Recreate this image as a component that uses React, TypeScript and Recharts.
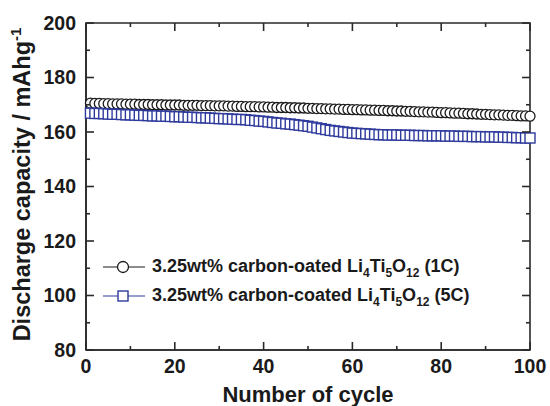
import React from 'react';
import { LineChart, Line, XAxis, YAxis, Legend, ReferenceArea } from 'recharts';

// cycle numbers 1..100
const cycles = Array.from({ length: 100 }, (_, i) => i + 1);

// 3.25wt% carbon-oated Li4Ti5O12 (1C)
const cap1C = [
  170.6, 170.5, 170.5, 170.4, 170.4, 170.3, 170.3, 170.3, 170.2, 170.2,
  170.2, 170.1, 170.1, 170.1, 170.0, 170.0, 170.0, 169.9, 169.9, 169.9,
  169.9, 169.8, 169.8, 169.8, 169.8, 169.7, 169.7, 169.7, 169.6, 169.6,
  169.6, 169.5, 169.5, 169.4, 169.4, 169.3, 169.3, 169.3, 169.2, 169.2,
  169.1, 169.1, 169.0, 169.0, 169.0, 168.9, 168.9, 168.8, 168.8, 168.7,
  168.7, 168.6, 168.6, 168.5, 168.5, 168.4, 168.4, 168.3, 168.3, 168.2,
  168.2, 168.1, 168.1, 168.0, 168.0, 167.9, 167.9, 167.8, 167.8, 167.7,
  167.7, 167.6, 167.6, 167.5, 167.4, 167.4, 167.3, 167.3, 167.2, 167.1,
  167.1, 167.0, 166.9, 166.9, 166.8, 166.7, 166.7, 166.6, 166.5, 166.5,
  166.4, 166.3, 166.3, 166.2, 166.1, 166.1, 166.0, 165.9, 165.9, 165.8,
];

// 3.25wt% carbon-coated Li4Ti5O12 (5C)
const cap5C = [
  166.9, 166.8, 166.8, 166.7, 166.6, 166.5, 166.5, 166.4, 166.3, 166.3,
  166.2, 166.1, 166.1, 166.0, 165.9, 165.9, 165.8, 165.8, 165.7, 165.6,
  165.6, 165.5, 165.4, 165.4, 165.3, 165.2, 165.2, 165.1, 165.0, 164.9,
  164.9, 164.8, 164.7, 164.6, 164.6, 164.5, 164.3, 164.2, 164.0, 163.9,
  163.7, 163.5, 163.3, 163.2, 163.0, 162.9, 162.7, 162.5, 162.3, 162.1,
  161.8, 161.5, 161.2, 160.9, 160.6, 160.4, 160.2, 160.0, 159.8, 159.6,
  159.5, 159.4, 159.3, 159.2, 159.1, 159.0, 159.0, 158.9, 158.9, 158.9,
  158.8, 158.8, 158.8, 158.7, 158.7, 158.7, 158.6, 158.6, 158.6, 158.6,
  158.5, 158.5, 158.5, 158.4, 158.4, 158.4, 158.3, 158.3, 158.3, 158.2,
  158.2, 158.2, 158.1, 158.1, 158.0, 158.0, 157.9, 157.9, 157.8, 157.8,
];

// every 10 gets a tick, every 20 a label
const xTicks = [0, 10, 20, 30, 40, 50, 60, 70, 80, 90, 100];
const yTicks = [80, 90, 100, 110, 120, 130, 140, 150, 160, 170, 180, 190, 200];

const data = cycles.map((c, i) => ({ cycle: c, c1: cap1C[i], c5: cap5C[i] }));

const FONT = "'Liberation Sans', Arial, sans-serif";
const AX = '#2a2a2a';
const INK = '#1a1a1a';
const BLUE = '#2e3a9c';

// plot box (chart is 550x406)
const W = 550, H = 406;
const TOP = 23, RIGHT = 20, LEFT = 86, BOTTOM = 56;
const X_GAP = 9, Y_GAP = 10;

const axisLine = { stroke: AX, strokeWidth: 1.6 };

const XTick = (props: any) => {
  const { x, y, payload } = props;
  const major = payload.value % 20 === 0;
  const len = major ? 8 : 4;
  const bottom = y - X_GAP;
  return (
    <g>
      <line x1={x} x2={x} y1={bottom} y2={bottom - len} stroke={AX} strokeWidth={1.6} />
      <line x1={x} x2={x} y1={TOP} y2={TOP + len} stroke={AX} strokeWidth={1.6} />
      {major && (
        <text x={x} y={y} dy="0.71em" textAnchor="middle" fill={INK} fontSize={19.5} fontWeight={700} fontFamily={FONT}>
          {payload.value}
        </text>
      )}
    </g>
  );
};

const YTick = (props: any) => {
  const { x, y, payload } = props;
  const major = payload.value % 20 === 0;
  const len = major ? 8 : 4;
  const left = x + Y_GAP;
  const right = W - RIGHT;
  return (
    <g>
      <line x1={left} x2={left + len} y1={y} y2={y} stroke={AX} strokeWidth={1.6} />
      <line x1={right} x2={right - len} y1={y} y2={y} stroke={AX} strokeWidth={1.6} />
      {major && (
        <text x={x} y={y} dy="0.355em" textAnchor="end" fill={INK} fontSize={19.5} fontWeight={700} fontFamily={FONT}>
          {payload.value}
        </text>
      )}
    </g>
  );
};

const SquareDot = (props: any) => {
  const { cx, cy, index } = props;
  return <rect key={index} x={cx - 5} y={cy - 5} width={10} height={10} fill="#fff" stroke={BLUE} strokeWidth={1.4} />;
};

const XTitle = ({ viewBox }: any) => (
  <text x={viewBox.x + viewBox.width / 2} y={402} textAnchor="middle" fill={INK} fontSize={22} fontWeight={700} fontFamily={FONT}>
    Number of cycle
  </text>
);

const YTitle = ({ viewBox }: any) => {
  const cy = viewBox.y + viewBox.height / 2 - 2;
  return (
    <text x={30} y={cy} transform={`rotate(-90 30 ${cy})`} textAnchor="middle" fill={INK} fontSize={23.5} fontWeight={700} fontFamily={FONT}>
      Discharge capacity / mAhg
      <tspan fontSize={15} dy={-9}>-1</tspan>
    </text>
  );
};

const sub = { fontSize: 12, position: 'relative' as const, top: 5 };

const LegendBox = () => (
  <div style={{ fontFamily: FONT, fontWeight: 700, fontSize: 18, color: INK }}>
    <div style={{ display: 'flex', alignItems: 'center', height: 29 }}>
      <svg width={42} height={14}>
        <line x1={0} y1={7} x2={42} y2={7} stroke={INK} strokeWidth={1.2} />
        <circle cx={20} cy={7} r={5.5} fill="#fff" stroke={INK} strokeWidth={1.3} />
      </svg>
      <span style={{ marginLeft: 7, whiteSpace: 'nowrap' }}>
        3.25wt% carbon-oated Li<span style={sub}>4</span>Ti<span style={sub}>5</span>O<span style={sub}>12</span> (1C)
      </span>
    </div>
    <div style={{ display: 'flex', alignItems: 'center', height: 29 }}>
      <svg width={42} height={14}>
        <line x1={0} y1={7} x2={42} y2={7} stroke={BLUE} strokeWidth={1.2} />
        <rect x={15} y={2} width={10} height={10} fill="#fff" stroke={BLUE} strokeWidth={1.4} />
      </svg>
      <span style={{ marginLeft: 7, whiteSpace: 'nowrap' }}>
        3.25wt% carbon-coated Li<span style={sub}>4</span>Ti<span style={sub}>5</span>O<span style={sub}>12</span> (5C)
      </span>
    </div>
  </div>
);

export default function App() {
  return (
    <div style={{ position: 'absolute', left: 0, top: 0, width: W, height: H, background: '#fff' }}>
      <LineChart width={W} height={H} data={data} margin={{ top: TOP, right: RIGHT, bottom: 0, left: 0 }}>
        <XAxis xAxisId="x" dataKey="cycle" type="number" domain={[0, 100]} ticks={xTicks} interval={0} height={BOTTOM}
          axisLine={axisLine} tickLine={false} tickSize={0} tickMargin={X_GAP} tick={<XTick />} label={<XTitle />} />
        <YAxis yAxisId="y" type="number" domain={[80, 200]} ticks={yTicks} interval={0} width={LEFT}
          axisLine={axisLine} tickLine={false} tickSize={0} tickMargin={Y_GAP} tick={<YTick />} label={<YTitle />} />

        {/* top and right sides of the frame */}
        <ReferenceArea xAxisId="x" yAxisId="y" x1={0} x2={100} y1={80} y2={200}
          fill="none" stroke={AX} strokeWidth={1.6} ifOverflow="visible" />

        <Legend layout="vertical" align="center" verticalAlign="middle" content={<LegendBox />}
          wrapperStyle={{ position: 'absolute', left: 103, top: 252, width: 'auto', height: 'auto' }} />

        <Line xAxisId="x" yAxisId="y" type="linear" dataKey="c1" stroke={INK} strokeWidth={1}
          dot={{ r: 5, fill: '#fff', stroke: INK, strokeWidth: 1.3 }} isAnimationActive={false} />
        <Line xAxisId="x" yAxisId="y" type="linear" dataKey="c5" stroke={BLUE} strokeWidth={1}
          dot={<SquareDot />} isAnimationActive={false} />
      </LineChart>
    </div>
  );
}
